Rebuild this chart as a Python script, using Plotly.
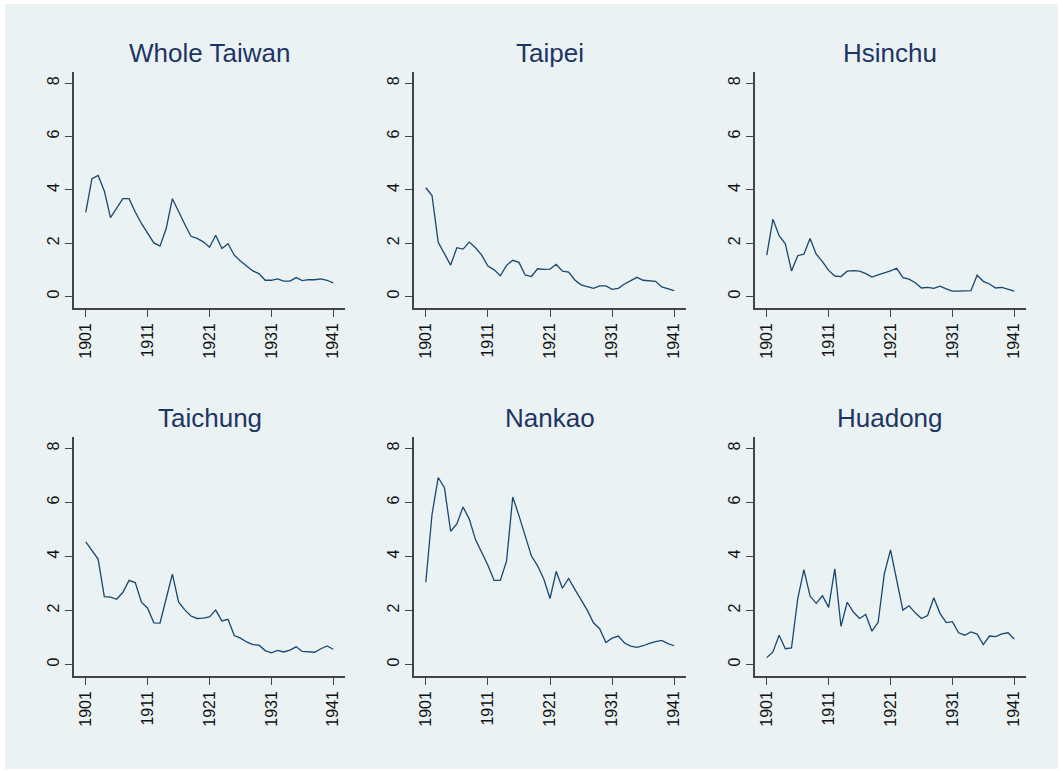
import plotly.graph_objects as go

years = list(range(1901, 1942))

whole_taiwan = [3.16, 4.42, 4.54, 3.96, 2.96, 3.32, 3.67, 3.67, 3.17, 2.74,
                2.37, 2.01, 1.89, 2.55, 3.67, 3.17, 2.71, 2.26, 2.18, 2.05,
                1.85, 2.30, 1.80, 1.98, 1.55, 1.33, 1.14, 0.96, 0.86, 0.61,
                0.61, 0.66, 0.58, 0.58, 0.71, 0.60, 0.63, 0.63, 0.66, 0.61, 0.51]
taipei = [4.08, 3.79, 2.03, 1.58, 1.18, 1.83, 1.78, 2.04, 1.83, 1.55,
          1.14, 1.00, 0.78, 1.17, 1.36, 1.28, 0.81, 0.75, 1.04, 1.02,
          1.03, 1.21, 0.95, 0.92, 0.62, 0.44, 0.36, 0.31, 0.40, 0.40,
          0.27, 0.31, 0.47, 0.61, 0.72, 0.61, 0.58, 0.57, 0.36, 0.30, 0.22]
hsinchu = [1.55, 2.90, 2.28, 1.98, 0.96, 1.53, 1.59, 2.18, 1.59, 1.31,
           0.98, 0.77, 0.75, 0.95, 0.97, 0.95, 0.86, 0.73, 0.81, 0.88,
           0.96, 1.06, 0.71, 0.65, 0.52, 0.32, 0.34, 0.31, 0.39, 0.29,
           0.20, 0.20, 0.22, 0.22, 0.80, 0.57, 0.47, 0.32, 0.34, 0.27, 0.20]
taichung = [4.54, 4.23, 3.90, 2.51, 2.49, 2.41, 2.67, 3.11, 3.03, 2.30,
            2.08, 1.54, 1.53, 2.44, 3.34, 2.31, 2.02, 1.79, 1.70, 1.71,
            1.76, 2.01, 1.61, 1.67, 1.07, 0.97, 0.83, 0.73, 0.71, 0.51,
            0.43, 0.52, 0.46, 0.53, 0.65, 0.48, 0.47, 0.45, 0.58, 0.68, 0.56]
nankao = [3.04, 5.55, 6.92, 6.54, 4.93, 5.20, 5.83, 5.38, 4.62, 4.14,
          3.67, 3.11, 3.11, 3.82, 6.20, 5.51, 4.74, 4.02, 3.65, 3.16,
          2.44, 3.44, 2.82, 3.18, 2.78, 2.41, 2.01, 1.54, 1.32, 0.81,
          0.97, 1.05, 0.79, 0.68, 0.63, 0.69, 0.78, 0.84, 0.89, 0.77, 0.69]
huadong = [0.25, 0.46, 1.08, 0.58, 0.61, 2.42, 3.51, 2.53, 2.26, 2.54,
           2.11, 3.54, 1.41, 2.30, 1.94, 1.70, 1.85, 1.23, 1.56, 3.35,
           4.24, 3.06, 2.01, 2.17, 1.91, 1.70, 1.81, 2.47, 1.89, 1.55,
           1.58, 1.17, 1.08, 1.20, 1.12, 0.73, 1.05, 1.03, 1.13, 1.17, 0.94]

titles = ["Whole Taiwan", "Taipei", "Hsinchu", "Taichung", "Nankao", "Huadong"]
series = [whole_taiwan, taipei, hsinchu, taichung, nankao, huadong]

x_ticks = [1901, 1911, 1921, 1931, 1941]
y_ticks = [0, 2, 4, 6, 8]

W, H = 1063, 771
BG = "#EAF2F3"
LINE = "#1A476F"
TITLE = "#1E3564"
FONT = "Liberation Sans, Arial"

col_px = [(74, 345), (414, 686), (755, 1026)]
row_px = [(72, 308), (437, 676)]

fig = go.Figure()
layout = {}
annotations = []
for i, (name, vals) in enumerate(zip(titles, series)):
    r, c = divmod(i, 3)
    n = i + 1
    xa = "x" if n == 1 else f"x{n}"
    ya = "y" if n == 1 else f"y{n}"
    fig.add_trace(go.Scatter(x=years, y=vals, mode="lines",
                             line=dict(color=LINE, width=1.3),
                             xaxis=xa, yaxis=ya, showlegend=False))
    x0, x1 = col_px[c]
    y0, y1 = row_px[r]
    xdom = [x0 / W, x1 / W]
    ydom = [1 - y1 / H, 1 - y0 / H]
    layout["xaxis" if n == 1 else f"xaxis{n}"] = dict(
        domain=xdom, anchor=ya, range=[1899.1, 1942.9],
        tickmode="array", tickvals=x_ticks, ticktext=[str(t) for t in x_ticks],
        tickangle=-90, ticks="outside", ticklen=7, tickwidth=1.3, tickcolor="#444",
        showline=True, linecolor="#444", linewidth=1.5, showgrid=False,
        zeroline=False, tickfont=dict(family=FONT, size=16, color="#111"),
        fixedrange=True)
    layout["yaxis" if n == 1 else f"yaxis{n}"] = dict(
        domain=ydom, anchor=xa, range=[-0.43, 8.42],
        tickmode="array", tickvals=y_ticks, ticktext=[str(t) for t in y_ticks],
        tickangle=-90, ticks="outside", ticklen=7, tickwidth=1.3, tickcolor="#444",
        showline=True, linecolor="#444", linewidth=1.5, showgrid=True,
        gridcolor=BG, gridwidth=1.5, zeroline=False,
        tickfont=dict(family=FONT, size=16, color="#111"),
        fixedrange=True)
    annotations.append(dict(
        text=name, x=(xdom[0] + xdom[1]) / 2, y=ydom[1] + 2 / H,
        xref="paper", yref="paper", xanchor="center", yanchor="bottom",
        showarrow=False, font=dict(family=FONT, size=26, color=TITLE)))

fig.update_layout(
    width=W, height=H, margin=dict(l=0, r=0, t=0, b=0),
    paper_bgcolor="white", plot_bgcolor="white",
    annotations=annotations,
    shapes=[dict(type="rect", xref="paper", yref="paper", x0=5 / W, x1=1058 / W,
                 y0=1 - 769 / H, y1=1 - 4 / H, fillcolor=BG, line=dict(width=0), layer="below")],
    **layout)

fig.write_html("out.html", config={"displayModeBar": False},
               post_script="document.body.style.margin='0';")
